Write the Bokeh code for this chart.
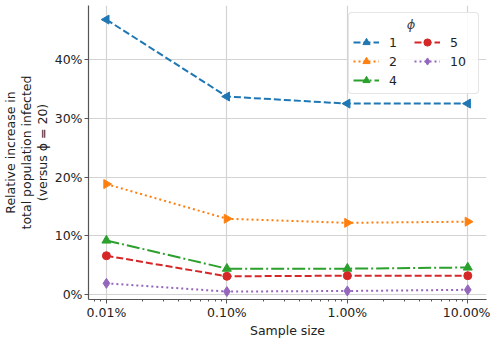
import math
from bokeh.plotting import figure
from bokeh.models import (Legend, LegendItem, NumeralTickFormatter, FixedTicker,
                          Range1d, LogTicker, ColumnDataSource)
from bokeh.embed import file_html
from bokeh.resources import INLINE

sample_sizes = [0.0001, 0.001, 0.01, 0.1]
phi_labels = ["1", "2", "4", "5", "10"]
inc_phi1 = [0.468, 0.337, 0.325, 0.325]
inc_phi2 = [0.188, 0.129, 0.122, 0.124]
inc_phi4 = [0.092, 0.044, 0.044, 0.046]
inc_phi5 = [0.066, 0.031, 0.032, 0.032]
inc_phi10 = [0.019, 0.005, 0.006, 0.008]

series = [inc_phi1, inc_phi2, inc_phi4, inc_phi5, inc_phi10]
colors = ["#1f77b4", "#ff7f0e", "#2ca02c", "#d62728", "#9467bd"]
dashes = ["7 3", "2 3", "13 3 2 3", "7 3", "2 3"]
markers = ["triangle", "triangle", "triangle", "circle", "diamond"]
angles = [math.pi / 2, -math.pi / 2, 0.0, 0.0, 0.0]
sizes = [9, 9, 9, 8, 10]

FONT = "DejaVu Sans"
FS = "12.5px"

p = figure(width=490, height=340, x_axis_type="log", output_backend="svg",
           toolbar_location=None,
           x_range=Range1d(7.1e-5, 0.143), y_range=Range1d(-0.0085, 0.492),
           min_border_left=85, min_border_right=4, min_border_top=5,
           min_border_bottom=0)
p.outline_line_color = None

items = []
for lab, ys, c, d, m, a, s in zip(phi_labels, series, colors, dashes, markers, angles, sizes):
    src = ColumnDataSource(data=dict(x=sample_sizes, y=ys,
                                     ang=[a] * len(sample_sizes)))
    r1 = p.line("x", "y", source=src, line_color=c, line_width=2, line_dash=d)
    r2 = p.scatter("x", "y", source=src, marker=m, size=s, angle="ang",
                   fill_color=c, line_color=c)
    items.append(LegendItem(label=lab, renderers=[r1, r2], index=0))

legend = Legend(items=items, ncols=2, location="top_right")
legend.title = "             ϕ"
legend.title_text_font_style = "italic"
legend.title_text_font = FONT
legend.title_text_font_size = "13px"
legend.title_standoff = 1
legend.label_text_font = FONT
legend.label_text_font_size = FS
legend.label_text_color = "#222222"
legend.border_line_color = "#cccccc"
legend.background_fill_alpha = 0.85
legend.margin = 7
legend.padding = 4
legend.spacing = 1
legend.glyph_width = 26
legend.glyph_height = 18
legend.label_height = 18
legend.label_standoff = 10
legend.label_width = 24
legend.border_radius = 4
p.add_layout(legend)

p.xaxis.ticker = LogTicker(num_minor_ticks=10)
p.xaxis.formatter = NumeralTickFormatter(format="0.00%")
p.yaxis.ticker = FixedTicker(ticks=[0, 0.1, 0.2, 0.3, 0.4])
p.yaxis.formatter = NumeralTickFormatter(format="0%")

for ax in (p.xaxis, p.yaxis):
    ax.axis_line_color = "#555555"
    ax.axis_line_width = 1.2
    ax.major_tick_line_color = "#555555"
    ax.minor_tick_line_color = "#555555"
    ax.major_tick_out = 4
    ax.major_tick_in = 0
    ax.minor_tick_out = 2
    ax.minor_tick_in = 0
    ax.major_label_text_font = FONT
    ax.major_label_text_font_size = FS
    ax.major_label_text_color = "#222222"
    ax.axis_label_text_font = FONT
    ax.axis_label_text_font_size = FS
    ax.axis_label_text_font_style = "normal"
    ax.axis_label_text_color = "#222222"
p.yaxis.minor_tick_line_color = None

p.xaxis.axis_label = "Sample size"
p.yaxis.axis_label = "Relative increase in\ntotal population infected\n(versus ϕ = 20)"
p.yaxis.axis_label_text_line_height = 1.05
p.xaxis.major_label_standoff = 1
p.yaxis.major_label_standoff = 2
p.xaxis.axis_label_standoff = 0
p.yaxis.axis_label_standoff = 2

p.xgrid.grid_line_color = "#d3d3d3"
p.ygrid.grid_line_color = "#d3d3d3"
p.xgrid.grid_line_width = 1.2
p.ygrid.grid_line_width = 1.2

open("out.html", "w").write(file_html(p, INLINE))
